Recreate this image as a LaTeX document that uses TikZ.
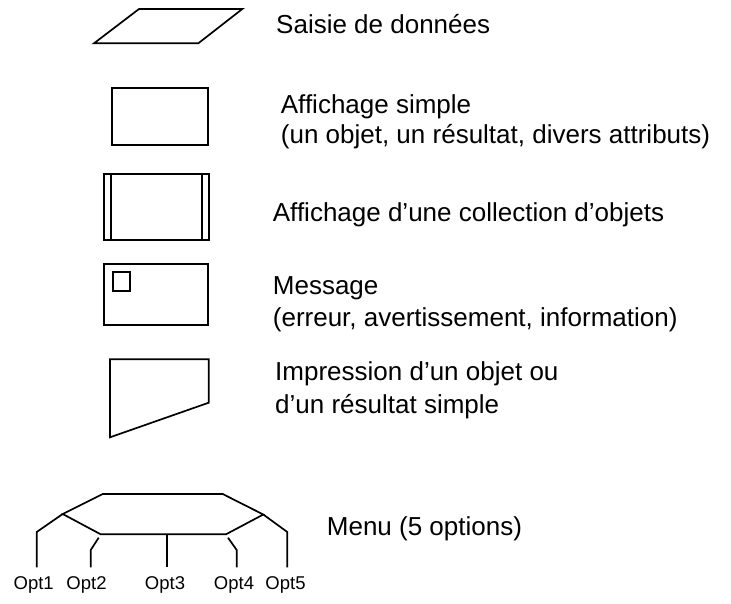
\documentclass[tikz,border=0pt]{standalone}
\usepackage{fontspec}
\setmainfont{Liberation Sans}
\usepackage{tikz}
\usetikzlibrary{positioning}

\tikzset{
  lbl/.style={font=\fontsize{26}{32.5}\selectfont, inner sep=0pt, anchor=base west, align=left},
  opt/.style={font=\fontsize{18.5}{18.5}\selectfont, inner sep=0pt, outer ysep=9pt, anchor=base},
  shp/.style={line width=1.7pt, line join=miter}
}

\begin{document}
\begin{tikzpicture}[x=1pt, y=-1pt]
\useasboundingbox (0,0) rectangle (731,603);
\draw[shp] (139,9) -- (242.3,9) -- (198.3,43.3) -- (94,43.3) -- cycle;
\node[lbl] (SAISIE) at (276,33) {Saisie de données};

\draw[shp] (112.3,88.3) rectangle (208.3,145);
\node[lbl] (AFF) at (280.7,143.3) {Affichage simple\\[-2.5pt](un objet, un résultat, divers attributs)};

\draw[shp] (104,174) rectangle (209,240);
\draw[shp] (110.7,174) -- (110.7,240) (202,174) -- (202,240);
\node[lbl] (COLL) at (272.7,221.7) {Affichage d’une collection d’objets};

\draw[shp] (104,264) rectangle (207.7,325);
\draw[shp] (112.7,271.7) rectangle (130,291);
\node[lbl] (MSG) at (272.7,326.7) {Message\\(erreur, avertissement, information)};

\draw[shp] (110,359.3) -- (208.7,359.3) -- (208.7,402.7) -- (110,437.3) -- cycle;
\node[lbl] (IMP) at (275,413.3) {Impression d’un objet ou\\d’un résultat simple};

\coordinate (A) at (102.7,494);
\coordinate (B) at (222.7,494);
\coordinate (C) at (263.3,514.5);
\coordinate (D) at (226,534.3);
\coordinate (E) at (100.7,534.3);
\coordinate (F) at (62.7,514);
\draw[shp] (A) -- (B) -- (C) -- (D) -- (E) -- (F) -- cycle;
\node[lbl] (MENU) at (326.7,535) {Menu (5 options)};

\node[opt] (OPT1) at (33.7,589.3) {Opt1};
\node[opt] (OPT2) at (86.5,589.3) {Opt2};
\node[opt] (OPT3) at (165,589.3) {Opt3};
\node[opt] (OPT4) at (234,589.3) {Opt4};
\node[opt] (OPT5) at (285.5,589.3) {Opt5};

\coordinate (K1) at (36.7,532);
\coordinate (S2) at (98.7,537.7);
\coordinate (K2) at (90.7,550);
\coordinate (S3) at (166.7,534.3);
\coordinate (S4) at (228,537.7);
\coordinate (K4) at (236.7,550);
\coordinate (K5) at (287.3,532);
\draw[shp] (F) -- (K1) -- (K1 |- OPT1.north);
\draw[shp] (S2) -- (K2) -- (K2 |- OPT2.north);
\draw[shp] (S3) -- (S3 |- OPT3.north);
\draw[shp] (S4) -- (K4) -- (K4 |- OPT4.north);
\draw[shp] (C) -- (K5) -- (K5 |- OPT5.north);
\end{tikzpicture}
\end{document}
